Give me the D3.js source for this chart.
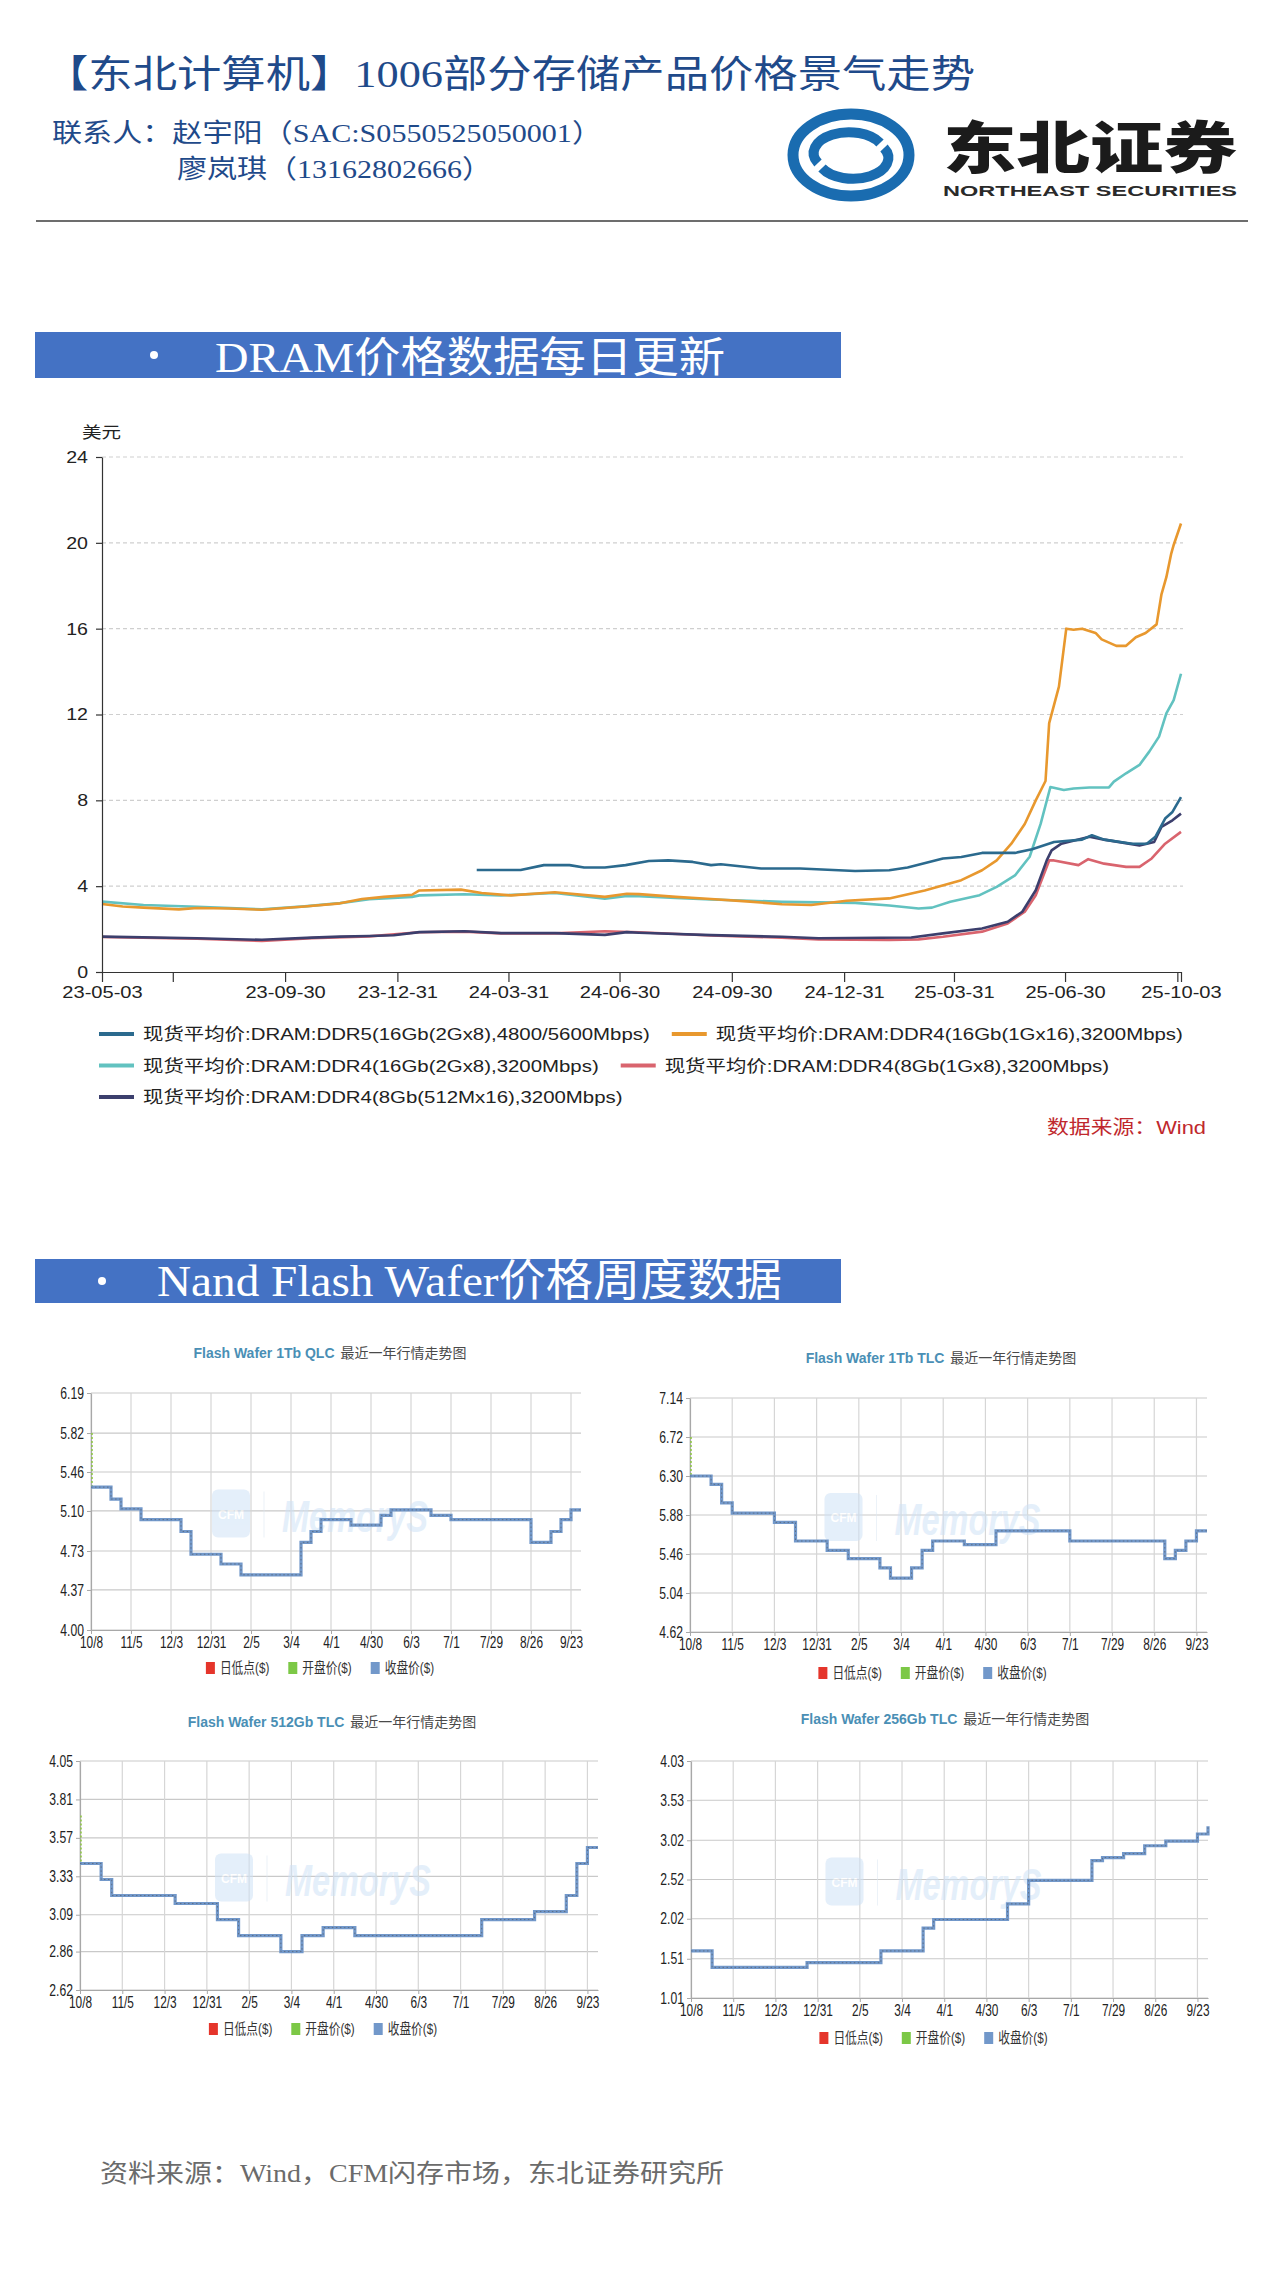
<!DOCTYPE html>
<html>
<head>
<meta charset="utf-8">
<script src="https://cdn.jsdelivr.net/npm/d3@7"></script>
<style>
  body { margin: 0; background: #fff; }
  svg { display: block; }
</style>
</head>
<body>
<svg id="page"></svg>
<script>
'use strict'

const WIDTH = 1280;
const HEIGHT = 2275;

// ---- texts ----
const TITLE = '【东北计算机】1006部分存储产品价格景气走势';
const CONTACT_1 = '联系人：赵宇阳（SAC:S0550525050001）';
const CONTACT_2 = '廖岚琪（13162802666）';
const SECTION_1 = 'DRAM价格数据每日更新';
const SECTION_2 = 'Nand Flash Wafer价格周度数据';
const FOOTER = '资料来源：Wind，CFM闪存市场，东北证券研究所';

// ---- DRAM daily spot prices (USD) ----
const dramYTicks = [0, 4, 8, 12, 16, 20, 24];
const dramTickDates = ['2023-05-03', '2023-06-30', '2023-09-30', '2023-12-31', '2024-03-31', '2024-06-30',
  '2024-09-30', '2024-12-31', '2025-03-31', '2025-06-30', '2025-09-30', '2025-10-03'];
const dramTickLabels = ['23-05-03', '', '23-09-30', '23-12-31', '24-03-31', '24-06-30',
  '24-09-30', '24-12-31', '25-03-31', '25-06-30', '', '25-10-03'];

const dramNames = [
  '现货平均价:DRAM:DDR5(16Gb(2Gx8),4800/5600Mbps)',
  '现货平均价:DRAM:DDR4(16Gb(1Gx16),3200Mbps)',
  '现货平均价:DRAM:DDR4(16Gb(2Gx8),3200Mbps)',
  '现货平均价:DRAM:DDR4(8Gb(1Gx8),3200Mbps)',
  '现货平均价:DRAM:DDR4(8Gb(512Mx16),3200Mbps)'
];
const dramColors = ['#2b6a8e', '#e8982e', '#62c2c0', '#d9646e', '#3c3f6d'];

const ddr5_16g_2gx8 = [
  ['2024-03-05', 4.75], ['2024-04-10', 4.75], ['2024-04-29', 4.98], ['2024-05-20', 4.98], ['2024-06-01', 4.87],
  ['2024-06-18', 4.87], ['2024-07-05', 4.98], ['2024-07-24', 5.17], ['2024-08-09', 5.2], ['2024-08-29', 5.13],
  ['2024-09-13', 4.98], ['2024-09-21', 5.02], ['2024-10-24', 4.82], ['2024-11-25', 4.82], ['2025-01-09', 4.71],
  ['2025-02-06', 4.74], ['2025-02-21', 4.87], ['2025-03-22', 5.29], ['2025-04-06', 5.36], ['2025-04-23', 5.55],
  ['2025-05-20', 5.55], ['2025-06-03', 5.72], ['2025-06-21', 6.06], ['2025-07-14', 6.17], ['2025-07-22', 6.37],
  ['2025-08-01', 6.17], ['2025-08-24', 5.98], ['2025-09-05', 5.98], ['2025-09-12', 6.3], ['2025-09-20', 7.15],
  ['2025-09-26', 7.46], ['2025-10-03', 8.15]
];
const ddr4_16g_1gx16 = [
  ['2023-05-03', 3.17], ['2023-05-20', 3.05], ['2023-06-06', 3.0], ['2023-07-05', 2.92], ['2023-07-20', 2.98],
  ['2023-08-15', 2.96], ['2023-09-11', 2.9], ['2023-10-16', 3.05], ['2023-11-14', 3.2], ['2023-12-02', 3.4],
  ['2023-12-20', 3.5], ['2024-01-12', 3.6], ['2024-01-18', 3.8], ['2024-02-21', 3.84], ['2024-03-09', 3.68],
  ['2024-04-02', 3.57], ['2024-05-08', 3.72], ['2024-06-18', 3.5], ['2024-07-06', 3.65], ['2024-07-16', 3.63],
  ['2024-08-15', 3.5], ['2024-09-13', 3.4], ['2024-10-15', 3.28], ['2024-11-10', 3.16], ['2024-12-04', 3.12],
  ['2025-01-02', 3.32], ['2025-02-06', 3.43], ['2025-03-07', 3.8], ['2025-04-06', 4.28], ['2025-04-23', 4.74],
  ['2025-05-05', 5.2], ['2025-05-17', 5.98], ['2025-05-28', 6.9], ['2025-06-06', 8.0], ['2025-06-14', 8.9],
  ['2025-06-17', 11.6], ['2025-06-25', 13.3], ['2025-07-01', 16.0], ['2025-07-07', 15.95], ['2025-07-14', 16.0],
  ['2025-07-25', 15.8], ['2025-07-30', 15.5], ['2025-08-11', 15.2], ['2025-08-19', 15.2], ['2025-08-27', 15.6],
  ['2025-09-04', 15.8], ['2025-09-13', 16.2], ['2025-09-17', 17.6], ['2025-09-21', 18.4], ['2025-09-25', 19.5],
  ['2025-09-27', 19.9], ['2025-10-03', 20.9]
];
const ddr4_16g_2gx8 = [
  ['2023-05-03', 3.28], ['2023-06-06', 3.12], ['2023-07-20', 3.04], ['2023-09-11', 2.92], ['2023-10-16', 3.06],
  ['2023-11-14', 3.21], ['2023-12-08', 3.39], ['2024-01-12', 3.5], ['2024-01-18', 3.57], ['2024-02-24', 3.62],
  ['2024-03-25', 3.57], ['2024-05-08', 3.68], ['2024-06-18', 3.42], ['2024-07-06', 3.54], ['2024-07-16', 3.53],
  ['2024-08-15', 3.45], ['2024-09-13', 3.38], ['2024-11-10', 3.27], ['2025-01-09', 3.22], ['2025-02-06', 3.1],
  ['2025-03-02', 2.96], ['2025-03-13', 3.0], ['2025-03-28', 3.27], ['2025-04-21', 3.58], ['2025-05-05', 3.97],
  ['2025-05-20', 4.5], ['2025-06-01', 5.37], ['2025-06-10', 6.9], ['2025-06-18', 8.62], ['2025-06-29', 8.48],
  ['2025-07-07', 8.55], ['2025-07-20', 8.6], ['2025-08-05', 8.6], ['2025-08-09', 8.87], ['2025-08-19', 9.26],
  ['2025-08-30', 9.65], ['2025-09-07', 10.27], ['2025-09-15', 10.97], ['2025-09-21', 12.05], ['2025-09-27', 12.67],
  ['2025-10-03', 13.9]
];
const ddr4_8g_1gx8 = [
  ['2023-05-03', 1.63], ['2023-07-20', 1.55], ['2023-09-11', 1.45], ['2023-10-22', 1.58], ['2023-12-08', 1.66],
  ['2024-01-18', 1.85], ['2024-02-24', 1.88], ['2024-03-25', 1.8], ['2024-05-08', 1.8], ['2024-06-18', 1.9],
  ['2024-07-16', 1.85], ['2024-09-13', 1.7], ['2024-11-10', 1.6], ['2024-12-10', 1.52], ['2025-02-06', 1.49],
  ['2025-03-02', 1.52], ['2025-03-22', 1.64], ['2025-04-23', 1.88], ['2025-05-14', 2.26], ['2025-05-28', 2.81],
  ['2025-06-06', 3.58], ['2025-06-17', 5.2], ['2025-06-21', 5.2], ['2025-07-11', 4.98], ['2025-07-19', 5.26],
  ['2025-08-01', 5.05], ['2025-08-19', 4.9], ['2025-08-30', 4.9], ['2025-09-09', 5.29], ['2025-09-20', 5.98],
  ['2025-10-03', 6.53]
];
const ddr4_8g_512mx16 = [
  ['2023-05-03', 1.65], ['2023-07-20', 1.57], ['2023-09-11', 1.5], ['2023-10-22', 1.6], ['2023-11-14', 1.65],
  ['2023-12-08', 1.68], ['2023-12-28', 1.71], ['2024-01-18', 1.86], ['2024-02-24', 1.9], ['2024-03-25', 1.81],
  ['2024-05-08', 1.81], ['2024-06-18', 1.73], ['2024-07-06', 1.86], ['2024-07-16', 1.83], ['2024-09-13', 1.72],
  ['2024-11-10', 1.64], ['2024-12-10', 1.57], ['2025-02-24', 1.61], ['2025-03-22', 1.8], ['2025-04-23', 2.03],
  ['2025-05-14', 2.34], ['2025-05-26', 2.81], ['2025-06-06', 3.81], ['2025-06-15', 5.2], ['2025-06-19', 5.67],
  ['2025-06-27', 5.98], ['2025-07-20', 6.3], ['2025-08-01', 6.17], ['2025-08-30', 5.9], ['2025-09-11', 6.06],
  ['2025-09-17', 6.76], ['2025-09-26', 7.07], ['2025-10-03', 7.38]
];

// ---- Flash wafer weekly close prices (USD), index 0 = 10/8 ----
const waferTickLabels = ['10/8', '11/5', '12/3', '12/31', '2/5', '3/4', '4/1', '4/30', '6/3', '7/1', '7/29', '8/26', '9/23'];
const waferLegend = ['日低点($)', '开盘价($)', '收盘价($)'];

const qlc1tTicks = [4.00, 4.37, 4.73, 5.10, 5.46, 5.82, 6.19];
const qlc1tClose = [5.32, 5.32, 5.21, 5.12, 5.12, 5.02, 5.02, 5.02, 5.02, 4.91,
  4.70, 4.70, 4.70, 4.61, 4.61, 4.51, 4.51, 4.51, 4.51, 4.51,
  4.51, 4.81, 4.91, 5.02, 5.02, 5.02, 4.97, 4.97, 4.97, 5.06,
  5.11, 5.11, 5.11, 5.11, 5.06, 5.06, 5.02, 5.02, 5.02, 5.02,
  5.02, 5.02, 5.02, 5.02, 4.81, 4.81, 4.91, 5.02, 5.11, 5.11];
const qlc1tOpen = 5.82;

const tlc1tTicks = [4.62, 5.04, 5.46, 5.88, 6.30, 6.72, 7.14];
const tlc1tClose = [6.30, 6.30, 6.21, 6.01, 5.90, 5.90, 5.90, 5.90, 5.80, 5.80,
  5.60, 5.60, 5.60, 5.50, 5.50, 5.41, 5.41, 5.41, 5.31, 5.20,
  5.20, 5.31, 5.50, 5.60, 5.60, 5.60, 5.56, 5.56, 5.56, 5.71,
  5.71, 5.71, 5.71, 5.71, 5.71, 5.71, 5.60, 5.60, 5.60, 5.60,
  5.60, 5.60, 5.60, 5.60, 5.60, 5.41, 5.50, 5.60, 5.71, 5.71];
const tlc1tOpen = 6.72;

const tlc512Ticks = [2.62, 2.86, 3.09, 3.33, 3.57, 3.81, 4.05];
const tlc512Close = [3.41, 3.41, 3.31, 3.21, 3.21, 3.21, 3.21, 3.21, 3.21, 3.16,
  3.16, 3.16, 3.16, 3.06, 3.06, 2.96, 2.96, 2.96, 2.96, 2.86,
  2.86, 2.96, 2.96, 3.01, 3.01, 3.01, 2.96, 2.96, 2.96, 2.96,
  2.96, 2.96, 2.96, 2.96, 2.96, 2.96, 2.96, 2.96, 3.06, 3.06,
  3.06, 3.06, 3.06, 3.11, 3.11, 3.11, 3.21, 3.41, 3.51, 3.51];
const tlc512Open = 3.71;

const tlc256Ticks = [1.01, 1.51, 2.02, 2.52, 3.02, 3.53, 4.03];
const tlc256Close = [1.61, 1.61, 1.40, 1.40, 1.40, 1.40, 1.40, 1.40, 1.40, 1.40,
  1.40, 1.46, 1.46, 1.46, 1.46, 1.46, 1.46, 1.46, 1.61, 1.61,
  1.61, 1.61, 1.90, 2.01, 2.01, 2.01, 2.01, 2.01, 2.01, 2.01,
  2.21, 2.21, 2.51, 2.51, 2.51, 2.51, 2.51, 2.51, 2.76, 2.80,
  2.80, 2.85, 2.85, 2.95, 2.95, 3.01, 3.01, 3.01, 3.10, 3.20];
const tlc256Open = 1.61;

// ---- helpers ----
const SERIF = "'Liberation Serif', 'Noto Sans CJK SC', serif";
const SANS = "'Liberation Sans', 'Noto Sans CJK SC', sans-serif";

const svg = d3.select('#page').attr('width', WIDTH).attr('height', HEIGHT);
svg.append('rect').attr('width', WIDTH).attr('height', HEIGHT).attr('fill', '#fff');

// stretch / squeeze text horizontally like the source picture
function widen(sel, k) {
  sel.each(function () {
    const w = this.getComputedTextLength();
    d3.select(this).attr('textLength', w * k).attr('lengthAdjust', 'spacingAndGlyphs');
  });
  return sel;
}

// ---- page header ----
svg.append('text')
  .attr('x', 44).attr('y', 87)
  .attr('font-family', SERIF).attr('font-size', 38).attr('fill', '#1f4a8a')
  .attr('textLength', 931).attr('lengthAdjust', 'spacingAndGlyphs')
  .text(TITLE);
svg.append('text')
  .attr('x', 52).attr('y', 142)
  .attr('font-family', SERIF).attr('font-size', 26).attr('fill', '#1f4a8a')
  .attr('textLength', 550).attr('lengthAdjust', 'spacingAndGlyphs')
  .text(CONTACT_1);
svg.append('text')
  .attr('x', 177).attr('y', 178)
  .attr('font-family', SERIF).attr('font-size', 26).attr('fill', '#1f4a8a')
  .attr('textLength', 315).attr('lengthAdjust', 'spacingAndGlyphs')
  .text(CONTACT_2);

// logo
const logo = svg.append('g');
logo.append('ellipse').attr('cx', 851).attr('cy', 155).attr('rx', 58).attr('ry', 41)
  .attr('fill', '#fff').attr('stroke', '#1a6cb0').attr('stroke-width', 11);
logo.append('path').attr('d', 'M 818 163 A 34 20 0 0 1 880 143')
  .attr('fill', 'none').attr('stroke', '#1a6cb0').attr('stroke-width', 10);
logo.append('path').attr('d', 'M 884 148 A 34 20 0 0 1 822 168')
  .attr('fill', 'none').attr('stroke', '#1a6cb0').attr('stroke-width', 10);
logo.append('text').attr('x', 943).attr('y', 168)
  .attr('font-family', "'Noto Sans CJK SC', sans-serif").attr('font-weight', 900)
  .attr('font-size', 56).attr('fill', '#1b1b1b')
  .attr('textLength', 294).attr('lengthAdjust', 'spacingAndGlyphs')
  .text('东北证券');
logo.append('text').attr('x', 943).attr('y', 196)
  .attr('font-family', SANS).attr('font-weight', 700)
  .attr('font-size', 15).attr('fill', '#2a2a2a')
  .attr('textLength', 294).attr('lengthAdjust', 'spacingAndGlyphs')
  .text('NORTHEAST SECURITIES');

svg.append('line').attr('x1', 36).attr('x2', 1248).attr('y1', 221).attr('y2', 221)
  .attr('stroke', '#6d6d6d').attr('stroke-width', 2);

// section bars
function sectionBar(y0, h, bulletX, textX, textW, baseY, size, label) {
  svg.append('rect').attr('x', 35).attr('y', y0).attr('width', 806).attr('height', h).attr('fill', '#4472c4');
  svg.append('circle').attr('cx', bulletX).attr('cy', y0 + h / 2).attr('r', 4).attr('fill', '#fff');
  svg.append('text').attr('x', textX).attr('y', baseY)
    .attr('font-family', SERIF).attr('font-size', size).attr('fill', '#fff')
    .attr('textLength', textW).attr('lengthAdjust', 'spacingAndGlyphs')
    .text(label);
}
sectionBar(332, 46, 154, 215, 510, 372, 42, SECTION_1);
sectionBar(1259, 44, 102, 157, 625, 1296, 44, SECTION_2);

// ---- DRAM chart ----
const parse = d3.timeParse('%Y-%m-%d');
const xDram = d3.scaleTime().domain([parse('2023-05-03'), parse('2025-10-03')]).range([102, 1181]);
const yDram = d3.scaleLinear().domain([0, 24]).range([972, 457]);

const dram = svg.append('g');
dram.append('g').selectAll('line').data(dramYTicks.slice(1)).join('line')
  .attr('x1', 102).attr('x2', 1183)
  .attr('y1', d => yDram(d)).attr('y2', d => yDram(d))
  .attr('stroke', '#cfcfcf').attr('stroke-width', 1.2).attr('stroke-dasharray', '4,3');

const dramSeries = [ddr5_16g_2gx8, ddr4_16g_1gx16, ddr4_16g_2gx8, ddr4_8g_1gx8, ddr4_8g_512mx16];
const dramLine = d3.line().x(d => xDram(parse(d[0]))).y(d => yDram(d[1]));
const drawOrder = [2, 1, 3, 4, 0];
drawOrder.forEach(k => {
  dram.append('path').datum(dramSeries[k])
    .attr('d', dramLine).attr('fill', 'none')
    .attr('stroke', dramColors[k]).attr('stroke-width', 2.6)
    .attr('stroke-linejoin', 'round');
});

const leftAxis = d3.axisLeft(yDram).tickValues(dramYTicks).tickSize(6).tickPadding(8).tickSizeOuter(0);
const leftG = dram.append('g').attr('transform', 'translate(102,0)').call(leftAxis);
const bottomAxis = d3.axisBottom(xDram).tickValues(dramTickDates.map(parse))
  .tickFormat((d, i) => dramTickLabels[i]).tickSize(10).tickPadding(4).tickSizeOuter(0);
const bottomG = dram.append('g').attr('transform', 'translate(0,972)').call(bottomAxis);
[leftG, bottomG].forEach(g => {
  g.selectAll('path, line').attr('stroke', '#333').attr('stroke-width', 1.2);
  g.selectAll('text').attr('font-family', SANS).attr('font-size', 17).attr('fill', '#222');
});
widen(leftG.selectAll('text'), 1.15);
widen(bottomG.selectAll('text').filter(function () { return this.textContent !== ''; }), 1.18);

widen(dram.append('text').attr('x', 82).attr('y', 438)
  .attr('font-family', SANS).attr('font-size', 16).attr('fill', '#222').text('美元'), 1.22);

// legend, flowing like the source
const legend = dram.append('g');
let lx = 99, row = 0;
dramNames.forEach((name, k) => {
  const item = legend.append('g');
  item.append('line').attr('x1', 0).attr('x2', 35).attr('y1', 0).attr('y2', 0)
    .attr('stroke', dramColors[k]).attr('stroke-width', 4);
  const t = item.append('text').attr('x', 44).attr('y', 6)
    .attr('font-family', SANS).attr('font-size', 17).attr('fill', '#222').text(name);
  widen(t, 1.2);
  const w = 44 + (+t.attr('textLength'));
  if (lx > 99 && lx + w > 1190) { lx = 99; row += 1; }
  item.attr('transform', `translate(${lx},${1034 + row * 31.5})`);
  lx += w + 22;
});

widen(dram.append('text').attr('x', 1206).attr('y', 1134).attr('text-anchor', 'end')
  .attr('font-family', SANS).attr('font-size', 19).attr('fill', '#c0282d').text('数据来源：Wind'), 1.15);

// ---- flash wafer small charts ----
function drawWafer(cfg, title, closes, openFirst, yTicks) {
  const g = svg.append('g');
  const x = d3.scaleLinear().domain([0, closes.length - 1]).range([cfg.left, cfg.right]);
  const y = d3.scaleLinear().domain([yTicks[0], yTicks[yTicks.length - 1]]).range([cfg.bottom, cfg.top]);
  const tickIdx = waferTickLabels.map((d, i) => i * 4);

  g.append('g').selectAll('line').data(yTicks).join('line')
    .attr('x1', cfg.left).attr('x2', cfg.right)
    .attr('y1', d => y(d)).attr('y2', d => y(d))
    .attr('stroke', '#c9c9c9').attr('stroke-width', 1.2);
  g.append('g').selectAll('line').data(tickIdx).join('line')
    .attr('x1', d => x(d)).attr('x2', d => x(d))
    .attr('y1', cfg.top).attr('y2', cfg.bottom)
    .attr('stroke', '#d6d6d6').attr('stroke-width', 1.2);

  // watermark
  const cx = (cfg.left + cfg.right) / 2;
  const cy = (cfg.top + cfg.bottom) / 2;
  const wm = g.append('g').attr('opacity', 0.55);
  wm.append('rect').attr('x', cx - 124).attr('y', cy - 22).attr('width', 38).attr('height', 48)
    .attr('rx', 6).attr('fill', '#cfe2f6');
  wm.append('text').attr('x', cx - 105).attr('y', cy + 7).attr('text-anchor', 'middle')
    .attr('font-family', SANS).attr('font-weight', 700).attr('font-size', 12).attr('fill', '#fff').text('CFM');
  wm.append('line').attr('x1', cx - 72).attr('x2', cx - 72).attr('y1', cy - 20).attr('y2', cy + 26)
    .attr('stroke', '#dde8f3').attr('stroke-width', 1);
  wm.append('text').attr('x', cx - 54).attr('y', cy + 20)
    .attr('font-family', SANS).attr('font-style', 'italic').attr('font-weight', 700)
    .attr('font-size', 44).attr('fill', '#cfe2f6')
    .attr('textLength', 146).attr('lengthAdjust', 'spacingAndGlyphs').text('MemoryS');

  const yAxis = d3.axisLeft(y).tickValues(yTicks).tickFormat(d3.format('.2f'))
    .tickSize(4).tickPadding(3).tickSizeOuter(0);
  const xAxis = d3.axisBottom(x).tickValues(tickIdx).tickFormat((d, i) => waferTickLabels[i])
    .tickSize(4).tickPadding(3).tickSizeOuter(0);
  const ya = g.append('g').attr('transform', `translate(${cfg.left},0)`).call(yAxis);
  const xa = g.append('g').attr('transform', `translate(0,${cfg.bottom})`).call(xAxis);
  [ya, xa].forEach(a => {
    a.select('.domain').attr('stroke', '#a8a8a8').attr('stroke-width', 1.2);
    a.selectAll('.tick line').attr('stroke', '#a8a8a8');
    a.selectAll('text').attr('font-family', SANS).attr('font-size', 16).attr('fill', '#222');
  });
  widen(ya.selectAll('text'), 0.76);
  widen(xa.selectAll('text'), 0.74);

  // open price at the first point
  g.append('line').attr('x1', x(0) + 1).attr('x2', x(0) + 1)
    .attr('y1', y(openFirst)).attr('y2', y(closes[0]))
    .attr('stroke', '#8cc63f').attr('stroke-width', 1.5).attr('stroke-dasharray', '2,2');

  const line = d3.line().x((d, i) => x(i)).y(d => y(d)).curve(d3.curveStepAfter);
  g.append('path').datum(closes).attr('d', line).attr('fill', 'none')
    .attr('stroke', '#7298ca').attr('stroke-width', 3.2);
  g.append('path').datum(closes).attr('d', line).attr('fill', 'none')
    .attr('stroke', '#5d6f88').attr('stroke-width', 1).attr('stroke-dasharray', '1.5,2.5');

  // title: coloured product name followed by grey caption
  const t1 = g.append('text').attr('y', cfg.titleY)
    .attr('font-family', SANS).attr('font-size', 14).attr('font-weight', 700).attr('fill', '#4a8fb5')
    .text(title);
  const t2 = g.append('text').attr('y', cfg.titleY)
    .attr('font-family', SANS).attr('font-size', 14).attr('fill', '#4a4a4a')
    .text('最近一年行情走势图');
  const w1 = t1.node().getComputedTextLength();
  const w2 = t2.node().getComputedTextLength();
  const tx = cfg.titleX - (w1 + 6 + w2) / 2;
  t1.attr('x', tx);
  t2.attr('x', tx + w1 + 6);

  // legend
  const lg = g.append('g');
  const colors = ['#e5352b', '#7cc846', '#7298ca'];
  let px = 0;
  waferLegend.forEach((name, k) => {
    lg.append('rect').attr('x', px).attr('y', -6).attr('width', 9).attr('height', 12).attr('fill', colors[k]);
    const lt = lg.append('text').attr('x', px + 14).attr('y', 5)
      .attr('font-family', SANS).attr('font-size', 15).attr('fill', '#333').text(name);
    widen(lt, 0.78);
    px += 14 + (+lt.attr('textLength')) + 19;
  });
  px -= 19;
  lg.attr('transform', `translate(${cx - 16 - px / 2},${cfg.legendY})`);
}

drawWafer({ left: 91, right: 581, top: 1393, bottom: 1630, titleX: 330, titleY: 1358, legendY: 1668 },
  'Flash Wafer 1Tb QLC', qlc1tClose, qlc1tOpen, qlc1tTicks);
drawWafer({ left: 690, right: 1207, top: 1398, bottom: 1632, titleX: 941, titleY: 1363, legendY: 1673 },
  'Flash Wafer 1Tb TLC', tlc1tClose, tlc1tOpen, tlc1tTicks);
drawWafer({ left: 80, right: 598, top: 1761, bottom: 1990, titleX: 332, titleY: 1727, legendY: 2029 },
  'Flash Wafer 512Gb TLC', tlc512Close, tlc512Open, tlc512Ticks);
drawWafer({ left: 691, right: 1208, top: 1761, bottom: 1998, titleX: 945, titleY: 1724, legendY: 2038 },
  'Flash Wafer 256Gb TLC', tlc256Close, tlc256Open, tlc256Ticks);

// ---- footer ----
svg.append('text').attr('x', 100).attr('y', 2182)
  .attr('font-family', SERIF).attr('font-size', 25).attr('fill', '#6b6b6b')
  .attr('textLength', 624).attr('lengthAdjust', 'spacingAndGlyphs')
  .text(FOOTER);
</script>
</body>
</html>
